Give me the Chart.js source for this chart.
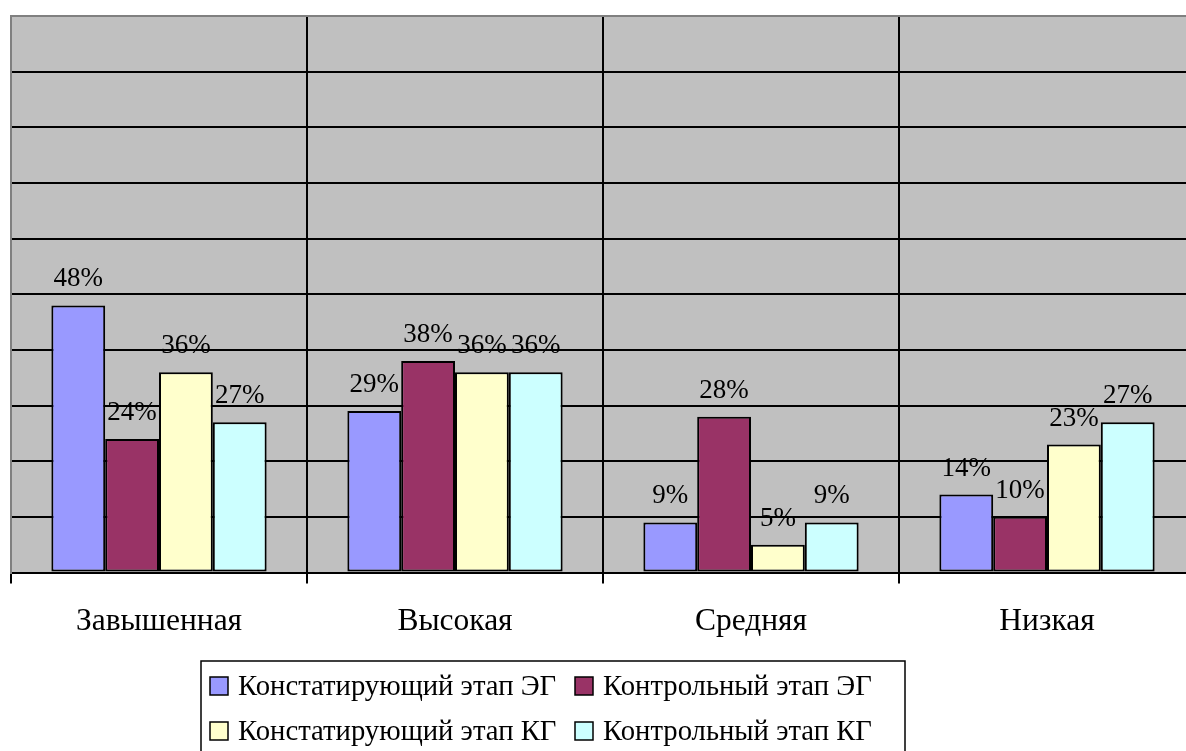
<!DOCTYPE html>
<html>
<head>
<meta charset="utf-8">
<script src="https://cdn.jsdelivr.net/npm/chart.js@4.4.1/dist/chart.umd.min.js"></script>
<style>
html,body{margin:0;padding:0;overflow:hidden;background:#fff;}
#wrap{position:absolute;left:0;top:0;width:1200px;height:751px;}
</style>
</head>
<body>
<div id="wrap"><canvas id="c" width="1200" height="751"></canvas></div>
<script>
const categories = ['Завышенная', 'Высокая', 'Средняя', 'Низкая'];
const seriesNames = ['Констатирующий этап ЭГ', 'Контрольный этап ЭГ', 'Констатирующий этап КГ', 'Контрольный этап КГ'];
const konstEG = [48, 29, 9, 14];
const kontrEG = [24, 38, 28, 10];
const konstKG = [36, 36, 5, 23];
const kontrKG = [27, 36, 9, 27];
const seriesColors = ['#9999FF', '#993366', '#FFFFCC', '#CCFFFF'];
const yMax = 100, yStep = 10;

const SERIF = '"Liberation Serif", "Times New Roman", serif';
const allSeries = [konstEG, kontrEG, konstKG, kontrKG];

const bgPlugin = {
  id: 'bg',
  beforeDraw(chart) {
    const {ctx, chartArea: a} = chart;
    ctx.save();
    ctx.fillStyle = '#fff';
    ctx.fillRect(0, 0, chart.width, chart.height);
    ctx.fillStyle = '#C0C0C0';
    ctx.fillRect(a.left, a.top, a.right - a.left, a.bottom - a.top);
    ctx.restore();
  }
};

const labelPlugin = {
  id: 'vals',
  afterDatasetsDraw(chart) {
    const ctx = chart.ctx;
    ctx.save();
    ctx.font = '27px ' + SERIF;
    ctx.fillStyle = '#000';
    ctx.textAlign = 'center';
    ctx.textBaseline = 'alphabetic';
    chart.data.datasets.forEach((ds, i) => {
      chart.getDatasetMeta(i).data.forEach((el, j) => {
        ctx.fillText(ds.data[j] + '%', el.x, el.y - 19);
      });
    });
    ctx.restore();
  }
};

const legendPlugin = {
  id: 'lgd',
  afterDraw(chart) {
    const ctx = chart.ctx;
    const box = {x: 201, y: 661, w: 704, h: 120};
    ctx.save();
    ctx.fillStyle = '#fff';
    ctx.fillRect(box.x, box.y, box.w, box.h);
    ctx.strokeStyle = '#000';
    ctx.lineWidth = 1.5;
    ctx.strokeRect(box.x, box.y, box.w, box.h);
    ctx.font = '28.7px ' + SERIF;
    ctx.textBaseline = 'alphabetic';
    const colX = [210, 575];
    const rowBase = [695, 740];
    chart.data.datasets.forEach((ds, i) => {
      const cx = colX[i % 2], by = rowBase[Math.floor(i / 2)];
      ctx.fillStyle = ds.backgroundColor;
      ctx.fillRect(cx, by - 18, 18, 18);
      ctx.strokeStyle = '#000';
      ctx.lineWidth = 1.5;
      ctx.strokeRect(cx, by - 18, 18, 18);
      ctx.fillStyle = '#000';
      ctx.fillText(ds.label, cx + 28, by);
    });
    ctx.restore();
  }
};

new Chart(document.getElementById('c'), {
  type: 'bar',
  data: {
    labels: categories,
    datasets: allSeries.map((d, i) => ({
      label: seriesNames[i],
      data: d,
      backgroundColor: seriesColors[i],
      borderColor: '#000',
      borderWidth: 2,
      borderSkipped: false,
      categoryPercentage: 4 / 5.5,
      barPercentage: 1
    }))
  },
  options: {
    responsive: false,
    animation: false,
    devicePixelRatio: 1,
    layout: {padding: {left: 11, top: 16, right: 5, bottom: 0}},
    plugins: {legend: {display: false}, tooltip: {enabled: false}},
    scales: {
      x: {
        grid: {
          offset: true,
          color: (c) => c.index === 0 ? 'rgba(0,0,0,0)' : '#000',
          tickColor: '#000',
          lineWidth: 2,
          tickLength: 11,
          drawOnChartArea: true
        },
        border: {color: '#000', width: 2},
        ticks: {font: {family: SERIF, size: 31.5}, color: '#000', padding: 19, maxRotation: 0},
        afterFit(s) { s.height = 751 - 572.5; }
      },
      y: {
        min: 0, max: yMax,
        ticks: {display: false, stepSize: yStep},
        grid: {
          drawTicks: false,
          color: (c) => c.tick && c.tick.value === yMax ? '#808080' : '#000',
          lineWidth: 2
        },
        border: {color: '#808080', width: 2},
        afterFit(s) { s.width = 0; }
      }
    }
  },
  plugins: [bgPlugin, labelPlugin, legendPlugin]
});
</script>
</body>
</html>
